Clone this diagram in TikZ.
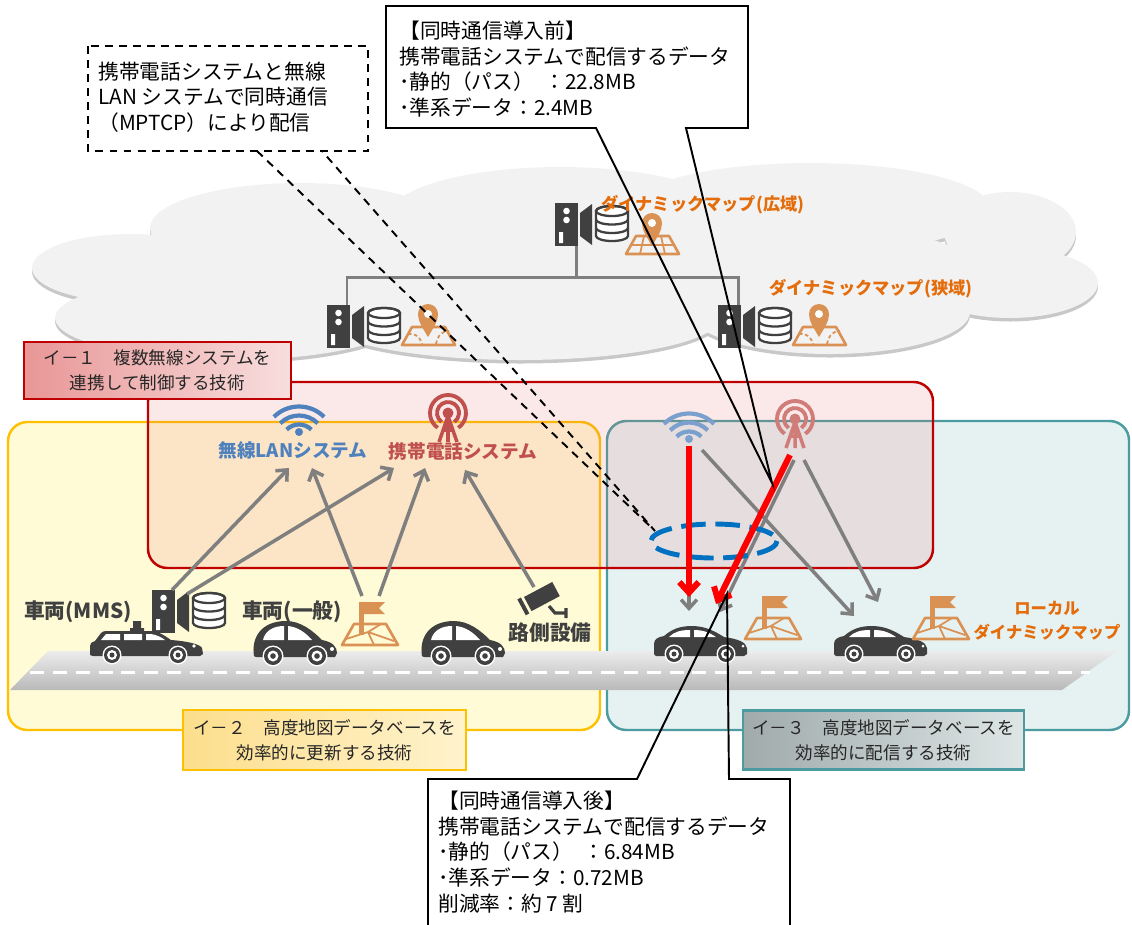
\documentclass[tikz,border=0pt]{standalone}
\usepackage{fontspec}
\setmainfont{Noto Sans CJK JP}
\usetikzlibrary{arrows.meta}

\definecolor{icongray}{RGB}{64,64,64}
\definecolor{linkgray}{RGB}{127,127,127}
\definecolor{maporange}{RGB}{217,146,84}
\definecolor{labelorange}{RGB}{228,108,10}
\definecolor{wlanblue}{RGB}{79,129,189}
\definecolor{cellred}{RGB}{192,80,77}
\definecolor{boxred}{RGB}{192,0,0}
\definecolor{boxyellow}{RGB}{255,192,0}
\definecolor{boxteal}{RGB}{75,155,160}
\definecolor{paleyellow}{RGB}{255,251,214}
\definecolor{paleteal}{RGB}{230,242,242}
\definecolor{palered}{RGB}{230,110,110}
\definecolor{cloudfill}{RGB}{242,242,242}
\definecolor{cloudedge}{RGB}{200,200,200}
\definecolor{mptcpblue}{RGB}{0,112,192}
\definecolor{roadtop}{RGB}{236,236,236}
\definecolor{roadbottom}{RGB}{185,185,185}
\definecolor{tagredL}{RGB}{233,150,150}
\definecolor{tagredR}{RGB}{248,222,222}
\definecolor{tagyelL}{RGB}{252,222,140}
\definecolor{tagyelR}{RGB}{255,243,205}
\definecolor{tagtealL}{RGB}{160,170,170}
\definecolor{tagtealR}{RGB}{222,230,230}

\tikzstyle{area}     = [line width=1.4pt, rounded corners=11pt]
\tikzstyle{tag}      = [line width=1.4pt, align=center, inner sep=0pt, text=black!85, font=\fontsize{10}{14.2}\selectfont]
\tikzstyle{note}     = [align=left, inner sep=0pt, font=\fontsize{11.8}{14.6}\selectfont]
\tikzstyle{maptitle} = [inner sep=0pt, align=center, text=labelorange, font=\bfseries\fontsize{9.8}{14}\selectfont]
\tikzstyle{radio}    = [inner sep=0pt, font=\bfseries\fontsize{10.6}{14}\selectfont]
\tikzstyle{vehicle}  = [inner sep=0pt, text=icongray, font=\bfseries\fontsize{11.8}{14}\selectfont]
\tikzstyle{link}     = [draw=linkgray, line width=2pt, -{Straight Barb[length=5pt, width=9pt]}]
\tikzstyle{push}     = [draw=red, line width=3.4pt, -{Straight Barb[length=6pt, width=11pt]}]
\tikzstyle{net}      = [draw=linkgray, line width=1.7pt]
\tikzstyle{callout}  = [draw=black, line width=1.1pt, line join=miter]
\tikzstyle{pointer}  = [draw=black, line width=1.1pt, dash pattern=on 4.5pt off 3.5pt]

\tikzset{
  server/.pic={
    \fill [icongray] (0,0) rectangle (23,43);
    \fill [white] (11.5,8) circle (3.3) (11.5,17) circle (3.3) (4,29) rectangle (8,40);
    \fill [icongray] (25,10) -- (37,1) -- (37,42) -- (25,33) -- cycle;
    \filldraw [draw=icongray, fill=white, line width=1.3pt]
      (41,8) -- (41,33) arc [start angle=180, end angle=0, x radius=16, y radius=5]
      -- (73,8) arc [start angle=0, end angle=-180, x radius=16, y radius=5] -- cycle;
    \draw [icongray, line width=1.3pt]
      (57,8) ellipse [x radius=16, y radius=5]
      (41,16.5) arc [start angle=180, end angle=0, x radius=16, y radius=5]
      (41,25) arc [start angle=180, end angle=0, x radius=16, y radius=5];
    \coordinate (-up)   at (20,0);
    \coordinate (-side) at (35,4);
    \coordinate (-down) at (21,43);
  },
  pinmap/.pic={
    \draw [maporange, line width=1.5pt, line join=round] (2,42) -- (12,24) -- (45,24) -- (55,42) -- cycle;
    \draw [maporange, line width=1pt, dash pattern=on 2pt off 1.5pt]
      (8,31) .. controls (16,30) and (20,34) .. (22,41)
      (36,41) .. controls (38,32) and (42,28) .. (49,28);
    \fill [maporange] (28,34) .. controls (22,24) and (18,18) .. (18,11)
      arc [start angle=180, end angle=360, radius=10]
      .. controls (38,18) and (34,24) .. (28,34) -- cycle;
    \fill [white] (28,11) circle (4);
  },
  gridmap/.pic={
    \draw [maporange, line width=1.5pt, line join=round] (2,42) -- (12,24) -- (45,24) -- (55,42) -- cycle;
    \draw [maporange, line width=1pt] (7,33) -- (50,33) (20,24) -- (16,42) (37,24) -- (41,42);
    \fill [maporange] (28,34) .. controls (22,24) and (18,18) .. (18,11)
      arc [start angle=180, end angle=360, radius=10]
      .. controls (38,18) and (34,24) .. (28,34) -- cycle;
    \fill [white] (28,11) circle (4);
  },
  flagmap/.pic={
    \draw [maporange, line width=1.5pt, line join=round] (1,43) -- (13,22) -- (45,22) -- (57,43) -- cycle;
    \draw [maporange, line width=1pt] (5,37) -- (27,30) -- (53,39) (27,30) -- (33,43) (27,30) -- (40,22);
    \fill [maporange] (18,0) rectangle (23,33);
    \fill [maporange] (23,0) -- (44,0) -- (38,6) -- (44,12) -- (23,12) -- cycle;
    \coordinate (-left)  at (21,-6);
    \coordinate (-right) at (38,-6);
  },
  wifi/.pic={
    \fill (0,0) circle (4);
    \foreach \r in {17.5,26.5,35.5}
      \draw [line width=2.4pt] (0,10) ++(225:\r) arc [start angle=225, end angle=315, radius=\r];
    \coordinate (-base) at (0,7);
    \coordinate (-side) at (13,11);
  },
  tower/.pic={
    \fill (0,0) circle (5.5);
    \draw [line width=2.2pt] (125:11) arc [start angle=125, end angle=415, radius=11]
                             (125:18) arc [start angle=125, end angle=415, radius=18];
    \draw [line width=2pt, line join=round] (-9,29) -- (0,3) -- (9,29) (0,3) -- (0,29) (-5,17) -- (5,17);
    \coordinate (-left)  at (-5,36);
    \coordinate (-mid)   at (-1,41);
    \coordinate (-right) at (9,41);
  },
  camera/.pic={
    \fill [rotate=28] (-15,-8) rectangle (17,8) (-22,-9) rectangle (-18,9);
    \draw [line width=1.8pt] (8,9) -- (14,16) -- (25,16) (25,11) -- (25,21);
    \coordinate (-top) at (-7,-10);
  },
  wagon/.pic={
    \fill (0,24) -- (0,15) .. controls (0,12) and (2,11) .. (5,10) -- (11,2)
      .. controls (12,0.5) and (14,0) .. (18,0) -- (60,0)
      .. controls (69,0) and (75,5) .. (81,9)
      .. controls (96,10) and (110,13) .. (112,17) -- (113,23) -- (110,25) -- (3,25) -- cycle;
    \fill (43,-10) rectangle (51,-3) (40,-3) rectangle (54,0);
    \fill [white] (11,9) -- (16,3) -- (30,3) -- (30,9) -- cycle
      (34,3) -- (52,3) -- (52,9) -- (34,9) -- cycle
      (56,3) -- (61,3) .. controls (67,4) and (71,6) .. (75,9) -- (56,9) -- cycle
      (104,15) circle (1.8);
    \foreach \x in {22,88} {
      \fill [white] (\x,24) circle (9.5);
      \fill (\x,24) circle (8);
      \fill [white] (\x,24) circle (5);
      \fill (\x,24) circle (2.5);
    }
  },
  hatch/.pic={
    \fill (3,36) .. controls (0,18) and (10,1) .. (35,1)
      .. controls (50,1) and (62,11) .. (71,20)
      .. controls (82,22) and (86,27) .. (86,33) -- (84,37) -- (5,37) -- cycle;
    \fill [white] (12,20) .. controls (14,11) and (22,6) .. (33,6) -- (33,20) -- cycle
      (37,6) .. controls (47,7) and (55,13) .. (61,20) -- (37,20) -- cycle
      (81,29) circle (2);
    \foreach \x in {22,66} {
      \fill [white] (\x,36) circle (10.5);
      \fill (\x,36) circle (9);
      \fill [white] (\x,36) circle (5.5);
      \fill (\x,36) circle (2.8);
    }
  },
  sedan/.pic={
    \fill (0,28) -- (0,18) .. controls (0,13) and (4,11) .. (10,10)
      .. controls (18,3) and (26,0) .. (38,0) .. controls (52,0) and (62,6) .. (70,11)
      .. controls (84,13) and (92,16) .. (93,22) -- (93,28) -- (90,30) -- (2,30) -- cycle;
    \fill [white] (15,11) .. controls (20,6) and (26,4) .. (36,4) -- (36,11) -- cycle
      (40,4) .. controls (50,4) and (56,7) .. (62,11) -- (40,11) -- cycle
      (89,20) circle (1.5);
    \foreach \x in {20,72} {
      \fill [white] (\x,28) circle (9.5);
      \fill (\x,28) circle (8);
      \fill [white] (\x,28) circle (5);
      \fill (\x,28) circle (2.5);
    }
  }
}

\begin{document}
\begin{tikzpicture}[x=0.02cm, y=-0.02cm]
\useasboundingbox (0,0) rectangle (1132,924);

% cloud
\foreach \dy/\col in {3.5/cloudedge, 0/cloudfill}
  \foreach \cx/\cy/\rx/\ry in {130/268/98/34, 300/228/150/45, 560/215/170/48, 810/208/180/45,
                               1010/232/66/40, 1010/283/88/35, 230/318/175/42, 520/318/200/42,
                               830/312/140/42, 570/265/400/60}
    \fill [\col] (\cx,\cy+\dy) ellipse [x radius=\rx, y radius=\ry];

% servers
\pic (wsrv) at (555,203) {server};
\pic (wmap) at (624,212) {gridmap};
\pic (lsrv) at (327,305) {server};
\pic (lmap) at (400,303) {pinmap};
\pic (rsrv) at (718,305) {server};
\pic (rmap) at (791,303) {pinmap};
\coordinate (hub) at (576,277);
\draw [net] (wsrv-down) -- (hub);
\draw [net] (lsrv-up) |- (hub) -| (rsrv-up);
\node [maptitle] (wide)   at (703,205) {ダイナミックマップ(広域)};
\node [maptitle] (narrow) at (871,289) {ダイナミックマップ(狭域)};

% areas
\draw [area, draw=boxyellow, fill=paleyellow] (8,422) rectangle (600,730);
\draw [area, draw=boxteal, fill=paleteal] (607,421) rectangle (1129,730);

% road
\shade [top color=roadtop, bottom color=roadbottom] (10,690) -- (48,651) -- (1117,651) -- (1062,690) -- cycle;
\draw [white, line width=1.7pt, dash pattern=on 8pt off 5pt] (30,672) -- (1090,672);

% vehicles
\pic [icongray] (mms)  at (90,631)  {wagon};
\pic [icongray] (gen)  at (251,620) {hatch};
\pic [icongray] (car)  at (419,620) {hatch};
\pic [icongray] (dst1) at (654,626) {sedan};
\pic [icongray] (dst2) at (834,626) {sedan};
\pic (msrv) at (152,590) {server};
\pic (gmap) at (341,602) {flagmap};
\pic (loc1) at (744,596) {flagmap};
\pic (loc2) at (912,596) {flagmap};
\pic [icongray] (cam) at (541,597) {camera};
\node [vehicle] (mmslabel) at (78,612)  {車両(MMS)};
\node [vehicle] (genlabel) at (292,612) {車両(一般)};
\node [vehicle] (rsulabel) at (550,633) {路側設備};
\node [maptitle, font=\bfseries\fontsize{9.3}{13.6}\selectfont] (ldm) at (1047,621) {ローカル\\ダイナミックマップ};

% control area
\draw [area, draw=boxred, fill=palered, fill opacity=0.15] (148,382) rectangle (933,568);
\pic [wlanblue]    (wifi)  at (299,432) {wifi};
\pic [cellred]     (mast)  at (448,413) {tower};
\pic [wlanblue!75] (lwifi) at (689,439) {wifi};
\pic [cellred!75]  (lmast) at (795,419) {tower};
\node [radio, text=wlanblue] (wlan) at (293,450) {無線LANシステム};
\node [radio, text=cellred]  (cell) at (463,451) {携帯電話システム};

% tags
\node [tag, draw=boxred, left color=tagredL, right color=tagredR, minimum width=5.34cm, minimum height=1.14cm]
  (tag1) at (157.5,370.5) {イ－１　複数無線システムを\\連携して制御する技術};
\node [tag, draw=boxyellow, left color=tagyelL, right color=tagyelR, minimum width=5.66cm, minimum height=1.2cm]
  (tag2) at (324.5,740) {イ－２　高度地図データベースを\\効率的に更新する技術};
\node [tag, draw=boxteal, left color=tagtealL, right color=tagtealR, minimum width=5.62cm, minimum height=1.18cm]
  (tag3) at (883.5,740) {イ－３　高度地図データベースを\\効率的に配信する技術};

% uplinks
\coordinate (wlan-a) at (289,468);
\coordinate (wlan-b) at (312,468);
\coordinate (cell-a) at (394,468);
\coordinate (cell-b) at (425,468);
\coordinate (cell-c) at (465,470);
\path
  (msrv-up)    edge [link] (wlan-a)
  (msrv-side)  edge [link] (cell-a)
  (gmap-left)  edge [link] (wlan-b)
  (gmap-right) edge [link] (cell-b)
  (cam-top)    edge [link] (cell-c);

% downlinks
\coordinate (dst1-a) at (689,611);
\coordinate (dst1-b) at (720,612);
\coordinate (dst2-a) at (854,616);
\coordinate (dst2-b) at (878,602);
\coordinate (dst1-ra) at (689,597);
\coordinate (dst1-rb) at (716,604);
\path
  (lwifi-base)  edge [link] (dst1-a)
  (lwifi-side)  edge [link] (dst2-a)
  (lmast-mid)   edge [link] (dst1-b)
  (lmast-right) edge [link] (dst2-b);
\draw [mptcpblue, line width=2.8pt, dash pattern=on 14pt off 5.5pt] (714,541) ellipse [x radius=63, y radius=17];
\coordinate (mptcp) at (655,531);
\path
  (lwifi-base) edge [push] (dst1-ra)
  (lmast-left) edge [push] (dst1-rb);

% notes
\coordinate (pre) at (772,483);
\coordinate (post) at (727,594);
\draw [pointer] (88,46) rectangle (368,151);
\draw [pointer] (257,151) -- (mptcp) -- (322,151);
\node [note, anchor=west] (mptcpnote) at (98,97) {携帯電話システムと無線\\LAN システムで同時通信\\（MPTCP）により配信};

\fill [white] (386,6) rectangle (748,128);
\draw [callout] (596,128) -- (pre) -- (686,128) -- (748,128) -- (748,6) -- (386,6) -- (386,128) -- cycle;
\node [note, anchor=west] (before) at (399,69)
  {【同時通信導入前】\\携帯電話システムで配信するデータ\\･静的（パス）\enspace：22.8MB\\･準系データ：2.4MB};

\fill [white] (428,779) rectangle (790,940);
\draw [callout] (637,779) -- (post) -- (729,779) -- (790,779) -- (790,940) -- (428,940) -- (428,779) -- cycle;
\node [note, anchor=west] (after) at (438,852)
  {【同時通信導入後】\\携帯電話システムで配信するデータ\\･静的（パス）\enspace：6.84MB\\･準系データ：0.72MB\\削減率：約 7 割};

\end{tikzpicture}
\end{document}
